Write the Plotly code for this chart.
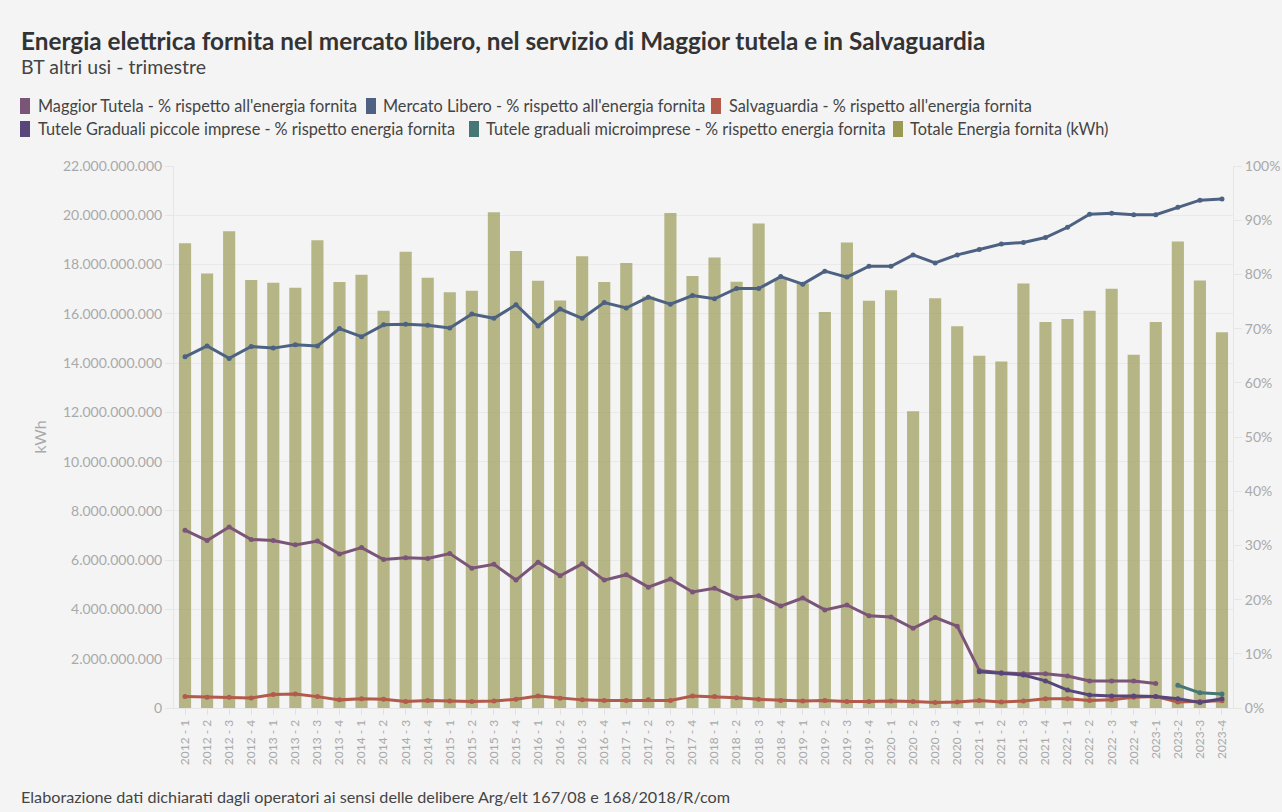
import plotly.graph_objects as go

quarters = [f"{y} - {q}" for y in range(2012, 2023) for q in range(1, 5)] + ["2023-1", "2023-2", "2023-3", "2023-4"]

totale_kwh = [
    18.86e9, 17.64e9, 19.35e9, 17.37e9, 17.26e9, 17.06e9, 18.99e9, 17.29e9,
    17.59e9, 16.12e9, 18.52e9, 17.46e9, 16.88e9, 16.94e9, 20.12e9, 18.55e9,
    17.34e9, 16.54e9, 18.34e9, 17.29e9, 18.06e9, 16.70e9, 20.09e9, 17.54e9,
    18.29e9, 17.30e9, 19.67e9, 17.44e9, 17.23e9, 16.07e9, 18.89e9, 16.53e9,
    16.96e9, 12.05e9, 16.63e9, 15.50e9, 14.30e9, 14.06e9, 17.23e9, 15.67e9,
    15.79e9, 16.12e9, 17.02e9, 14.34e9, 15.67e9, 18.94e9, 17.35e9, 15.25e9,
]

mercato_libero = [
    64.8, 66.8, 64.5, 66.7, 66.4, 67.0, 66.8, 70.0,
    68.5, 70.7, 70.8, 70.6, 70.1, 72.7, 71.9, 74.4,
    70.5, 73.6, 71.9, 74.8, 73.8, 75.8, 74.5, 76.1,
    75.5, 77.4, 77.4, 79.6, 78.2, 80.6, 79.5, 81.5,
    81.5, 83.6, 82.1, 83.6, 84.6, 85.6, 85.9, 86.8,
    88.7, 91.1, 91.3, 91.0, 91.0, 92.4, 93.7, 93.9,
]

maggior_tutela = [
    32.8, 30.9, 33.4, 31.1, 30.9, 30.1, 30.8, 28.4,
    29.6, 27.4, 27.7, 27.6, 28.5, 25.8, 26.5, 23.6,
    26.9, 24.4, 26.6, 23.6, 24.6, 22.3, 23.8, 21.4,
    22.1, 20.3, 20.7, 18.8, 20.3, 18.1, 19.0, 17.0,
    16.8, 14.7, 16.7, 15.1, 6.9, 6.5, 6.3, 6.3,
    5.9, 5.0, 5.0, 5.0, 4.5, None, None, None,
]

salvaguardia = [
    2.1, 2.0, 2.0, 1.85, 2.5, 2.6, 2.1, 1.5,
    1.7, 1.6, 1.2, 1.4, 1.3, 1.2, 1.3, 1.6,
    2.2, 1.8, 1.5, 1.4, 1.4, 1.5, 1.4, 2.2,
    2.1, 1.9, 1.6, 1.4, 1.3, 1.4, 1.2, 1.2,
    1.3, 1.2, 1.0, 1.1, 1.4, 1.1, 1.3, 1.7,
    1.7, 1.4, 1.5, 2.0, 2.1, 1.1, 1.2, 1.35,
]

tutele_piccole = [None] * 36 + [6.7, 6.4, 6.1, 5.0, 3.3, 2.4, 2.2, 2.2, 2.1, 1.7, 1.0, 1.7]

tutele_micro = [None] * 45 + [4.2, 2.8, 2.6]

series_names = [
    "Maggior Tutela - % rispetto all'energia fornita",
    "Mercato Libero - % rispetto all'energia fornita",
    "Salvaguardia - % rispetto all'energia fornita",
    "Tutele Graduali piccole imprese - % rispetto energia fornita",
    "Tutele graduali microimprese - % rispetto energia fornita",
    "Totale Energia fornita (kWh)",
]

C_MT = "#7a5577"
C_ML = "#4d6283"
C_SV = "#b35a4b"
C_TP = "#56467a"
C_TM = "#477676"
C_TOT = "#9a9a55"

FONT = "Lato"
GRAY = "#a9a9a9"

W, H = 1282, 812
L, R, T, B = 174, W - 1233, 166, H - 708
PW, PH = W - L - R, H - T - B


def px(x):
    return (x - L) / PW


def py(y):
    return (H - B - y) / PH


fig = go.Figure()

fig.add_trace(go.Bar(
    x=quarters, y=totale_kwh, marker=dict(color=C_TOT, opacity=0.7, line=dict(width=0)),
    showlegend=False, yaxis="y", name=series_names[5],
))

for name, vals, col in [
    (series_names[0], maggior_tutela, C_MT),
    (series_names[1], mercato_libero, C_ML),
    (series_names[2], salvaguardia, C_SV),
    (series_names[3], tutele_piccole, C_TP),
    (series_names[4], tutele_micro, C_TM),
]:
    fig.add_trace(go.Scatter(
        x=quarters, y=vals, yaxis="y2", mode="lines+markers", name=name,
        line=dict(color=col, width=3), marker=dict(color=col, size=5),
        showlegend=False, connectgaps=False,
    ))

# manual legend: (swatch left x, text left x, row y) in page pixels
legend_items = [
    (series_names[0], C_MT, 20, 36, 106),
    (series_names[1], C_ML, 366, 381, 106),
    (series_names[2], C_SV, 711, 727, 106),
    (series_names[3], C_TP, 20, 36, 129),
    (series_names[4], C_TM, 469, 484, 129),
    (series_names[5], C_TOT, 893, 908, 129),
]
for name, col, sx, tx, ry in legend_items:
    fig.add_shape(
        type="rect", xref="paper", yref="paper",
        x0=px(sx), x1=px(sx + 10), y0=py(ry + 8), y1=py(ry - 8),
        fillcolor=col, line=dict(width=0), layer="above",
    )
    fig.add_annotation(
        text=name, xref="paper", yref="paper", x=px(tx), y=py(ry),
        xanchor="left", yanchor="middle", showarrow=False,
        font=dict(family=FONT, size=16.3, color="#444"),
    )

fig.update_layout(
    width=W, height=H,
    paper_bgcolor="#f4f4f4", plot_bgcolor="#f4f4f4",
    margin=dict(l=L, r=R, t=T, b=B, autoexpand=False),
    separators=",.",
    bargap=0.45,
    showlegend=False,
    font=dict(family=FONT, color="#444"),
    xaxis=dict(
        type="category", range=[-0.5, len(quarters) - 0.5],
        tickangle=-90, tickfont=dict(family=FONT, size=12, color=GRAY),
        showgrid=False, ticks="outside", ticklen=6, tickcolor="#e2e2e2",
        showline=True, linecolor="#e6e6e6", automargin=False,
    ),
    yaxis=dict(
        range=[0, 22e9], dtick=2e9, tickformat=",d",
        tickfont=dict(family=FONT, size=14, color=GRAY),
        gridcolor="#e9e9e9", zeroline=False, showline=True, linecolor="#e6e6e6",
        ticks="outside", ticklen=8, tickcolor="#e6e6e6", automargin=False,
        title=dict(text="kWh", font=dict(family=FONT, size=16, color=GRAY), standoff=12),
    ),
    yaxis2=dict(
        overlaying="y", side="right", range=[0, 100], dtick=10, ticksuffix="%",
        tickfont=dict(family=FONT, size=14, color=GRAY),
        showgrid=False, zeroline=False, showline=True, linecolor="#e6e6e6",
        ticks="outside", ticklen=8, tickcolor="#e6e6e6", automargin=False,
    ),
)

fig.add_annotation(
    text="<b>Energia elettrica fornita nel mercato libero, nel servizio di Maggior tutela e in Salvaguardia</b>",
    xref="paper", yref="paper", x=px(19), y=py(40), xanchor="left", yanchor="middle",
    showarrow=False, font=dict(family=FONT, size=24.3, color="#333"),
)
fig.add_annotation(
    text="BT altri usi - trimestre", xref="paper", yref="paper",
    x=px(19), y=py(67), xanchor="left", yanchor="middle",
    showarrow=False, font=dict(family=FONT, size=19.5, color="#444"),
)
fig.add_annotation(
    text="Elaborazione dati dichiarati dagli operatori ai sensi delle delibere Arg/elt 167/08 e 168/2018/R/com",
    xref="paper", yref="paper", x=px(19), y=py(797), xanchor="left", yanchor="middle",
    showarrow=False, font=dict(family=FONT, size=16.2, color="#444"),
)

fig.write_html(
    "out.html",
    config={"displayModeBar": False},
    post_script="document.body.style.margin='0';document.body.style.padding='0';document.body.style.overflow='hidden';",
)
